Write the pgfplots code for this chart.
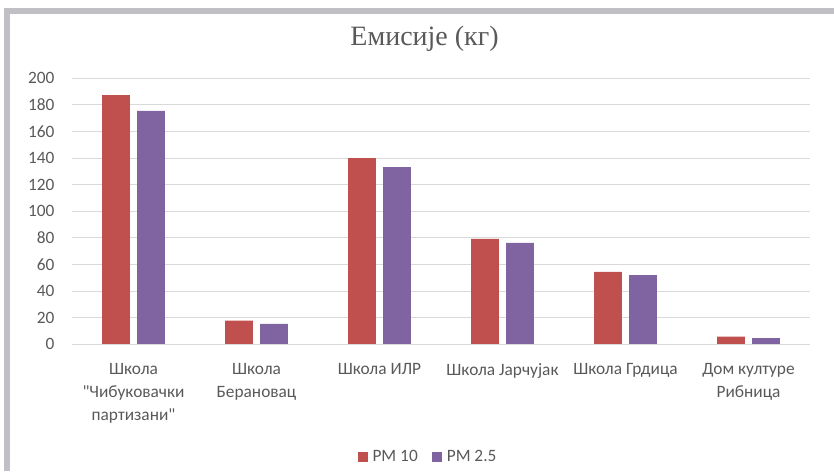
\documentclass[border=0pt]{standalone}
\usepackage{pgfplots}
\pgfplotsset{compat=1.18}
\usepackage{fontspec}
\setmainfont{Carlito}[Ligatures=TeXOff]
\newfontfamily\titlefont{Liberation Serif}

\definecolor{pmred}{HTML}{C0504D}
\definecolor{pmpurple}{HTML}{8064A2}
\definecolor{txtgray}{HTML}{595959}
\definecolor{gridgray}{HTML}{D9D9D9}
\definecolor{framegray}{HTML}{BFBFC4}

\begin{document}
\begin{tikzpicture}
% page size
\path (0pt,0pt) rectangle (625.5pt,353.25pt);
% frame
\fill[framegray] (3pt,342.75pt) rectangle (625.5pt,347pt);
\fill[framegray] (3pt,0pt) rectangle (7.7pt,347pt);
% title
\node[font=\titlefont\fontsize{21}{24}\selectfont, text=txtgray, anchor=base]
  at (318.4pt,319pt) {Емисије (кг)};

\begin{axis}[
  at={(54pt,95pt)}, anchor=south west,
  scale only axis,
  width=553.5pt, height=199.5pt,
  ybar=5.5pt, bar width=20.7pt,
  xmin=-0.5, xmax=5.5,
  ymin=0, ymax=200,
  ytick={0,20,...,200},
  xtick=data,
  xticklabels={
    {Школа\\"Чибуковачки\\партизани"},
    {Школа\\Берановац},
    {Школа ИЛР},
    {Школа Јарчујак},
    {Школа Грдица},
    {Дом културе\\Рибница}},
  axis line style={draw=none},
  major tick length=0pt,
  ymajorgrids,
  grid style={gridgray, line width=0.8pt},
  tick label style={text=txtgray},
  yticklabel style={font=\fontsize{13}{15}\selectfont, anchor=east, inner sep=0pt, xshift=-13pt},
  xticklabel style={font=\fontsize{13}{17.25}\selectfont, align=center, anchor=north, inner sep=0pt, yshift=-14pt},
  /pgf/number format/assume math mode=true,
  legend columns=-1,
  legend style={
    draw=none, fill=none,
    at={(0.481,-0.4236)}, anchor=center,
    font=\fontsize{13}{15}\selectfont, text=txtgray,
    nodes={inner sep=0pt},
    column sep=3.75pt,
    /tikz/every even column/.append style={column sep=10.5pt}},
  legend image code/.code={\fill[#1] (0pt,-3.75pt) rectangle (7.5pt,3.75pt);},
  clip=false,
]
\addplot[fill=pmred, draw=none] coordinates {
  (0,187.4) (1,17.8) (2,140.0) (3,79.2) (4,54.4) (5,5.8)};
\addplot[fill=pmpurple, draw=none] coordinates {
  (0,175.6) (1,15.4) (2,133.3) (3,76.2) (4,52.1) (5,4.6)};
\legend{PM 10, PM 2.5}
% bottom grid line
\draw[gridgray, line width=0.8pt] (axis cs:-0.5,0) -- (axis cs:5.5,0);
\end{axis}
\end{tikzpicture}
\end{document}
